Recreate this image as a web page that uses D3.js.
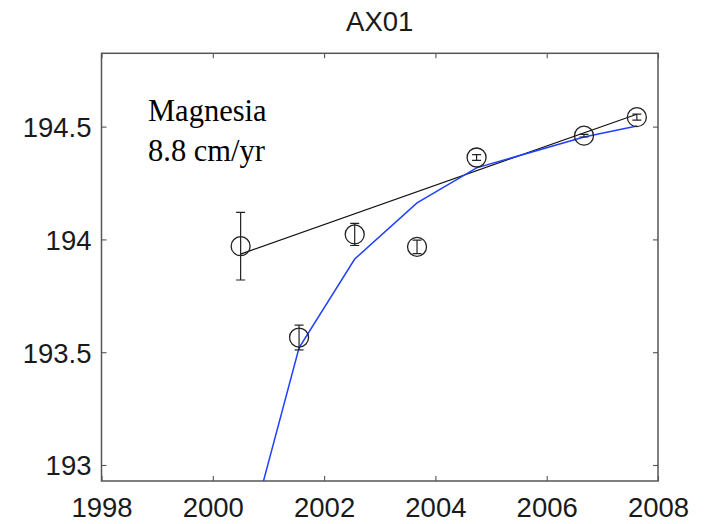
<!DOCTYPE html>
<html>
<head>
<meta charset="utf-8">
<script src="https://cdn.jsdelivr.net/npm/d3@7"></script>
<style>
  body { margin: 0; background: #fff; }
  text { font-family: "Liberation Sans", Arial, Helvetica, sans-serif; }
</style>
</head>
<body>
<svg id="chart" width="713" height="524"></svg>
<script>
// observations (year, position, half error)
var obsYears  = [2000.5, 2001.55, 2002.55, 2003.67, 2004.74, 2006.67, 2007.62];
var obsValues = [193.97, 193.565, 194.022, 193.967, 194.363, 194.46, 194.542];
var obsErrors = [0.15, 0.055, 0.049, 0.03, 0.013, 0.006, 0.013];

// model curve (blue)
var modelYears  = [2000.5, 2001.55, 2002.55, 2003.67, 2004.74, 2006.67, 2007.62];
var modelValues = [192.55, 193.519, 193.913, 194.162, 194.317, 194.454, 194.503];

// linear fit (black), 8.8 cm/yr
var fitYears  = [2000.5, 2007.62];
var fitValues = [193.935, 194.555];

var xTicks = [1998, 2000, 2002, 2004, 2006, 2008];
var yTicks = [193, 193.5, 194, 194.5];

var title = "AX01";
var noteLines = ["Magnesia", "8.8 cm/yr"];

var svg = d3.select("#chart");
var plotLeft = 101.5, plotRight = 658, plotTop = 53.3, plotBottom = 481;

var x = d3.scaleLinear().domain([1998, 2008]).range([plotLeft, plotRight]);
var y = d3.scaleLinear().domain([192.929, 194.825]).range([plotBottom, plotTop]);

var frameColor = "#555";

svg.append("defs").append("clipPath")
    .attr("id", "plotClip")
  .append("rect")
    .attr("x", plotLeft).attr("y", plotTop)
    .attr("width", plotRight - plotLeft).attr("height", plotBottom - plotTop);

// ticks, pointing inward on all four sides
function styleAxis(g) {
  g.select(".domain").remove();
  g.selectAll(".tick line").attr("stroke", frameColor).attr("stroke-width", 1.1);
}

svg.append("g")
    .attr("transform", "translate(0," + plotBottom + ")")
    .call(d3.axisBottom(x).tickValues(xTicks).tickSize(-5).tickFormat(d3.format("d")))
    .call(styleAxis)
    .call(g => g.selectAll("text")
      .attr("y", 36).attr("dy", 0)
      .attr("fill", "#1a1a1a")
      .style("font-size", "27.5px"));

svg.append("g")
    .attr("transform", "translate(0," + plotTop + ")")
    .call(d3.axisTop(x).tickValues(xTicks).tickSize(-5).tickFormat(""))
    .call(styleAxis);

svg.append("g")
    .attr("transform", "translate(" + plotLeft + ",0)")
    .call(d3.axisLeft(y).tickValues(yTicks).tickSize(-5).tickFormat(d3.format("")))
    .call(styleAxis)
    .call(g => g.selectAll("text")
      .attr("x", -10).attr("dy", "0.36em")
      .attr("fill", "#1a1a1a")
      .style("font-size", "27.5px"));

svg.append("g")
    .attr("transform", "translate(" + plotRight + ",0)")
    .call(d3.axisRight(y).tickValues(yTicks).tickSize(-5).tickFormat(""))
    .call(styleAxis);

// frame
svg.append("rect")
    .attr("x", plotLeft).attr("y", plotTop)
    .attr("width", plotRight - plotLeft).attr("height", plotBottom - plotTop)
    .attr("fill", "none")
    .attr("stroke", frameColor)
    .attr("stroke-width", 1.5);

var plot = svg.append("g").attr("clip-path", "url(#plotClip)");

var line = d3.line()
    .x(d => x(d[0]))
    .y(d => y(d[1]));

plot.append("path")
    .datum(d3.zip(fitYears, fitValues))
    .attr("d", line)
    .attr("fill", "none")
    .attr("stroke", "#111")
    .attr("stroke-width", 1.2);

plot.append("path")
    .datum(d3.zip(modelYears, modelValues))
    .attr("d", line)
    .attr("fill", "none")
    .attr("stroke", "#2040ff")
    .attr("stroke-width", 1.5);

// error bars with circles
var obs = d3.zip(obsYears, obsValues, obsErrors);
var capHalf = 4.5;

var marks = plot.selectAll(".obs")
    .data(obs)
  .enter().append("g")
    .attr("class", "obs");

marks.append("line")
    .attr("x1", d => x(d[0])).attr("x2", d => x(d[0]))
    .attr("y1", d => y(d[1] + d[2])).attr("y2", d => y(d[1] - d[2]))
    .attr("stroke", "#222").attr("stroke-width", 1.2);

marks.append("line")
    .attr("x1", d => x(d[0]) - capHalf).attr("x2", d => x(d[0]) + capHalf)
    .attr("y1", d => y(d[1] + d[2])).attr("y2", d => y(d[1] + d[2]))
    .attr("stroke", "#222").attr("stroke-width", 1.2);

marks.append("line")
    .attr("x1", d => x(d[0]) - capHalf).attr("x2", d => x(d[0]) + capHalf)
    .attr("y1", d => y(d[1] - d[2])).attr("y2", d => y(d[1] - d[2]))
    .attr("stroke", "#222").attr("stroke-width", 1.2);

marks.append("circle")
    .attr("cx", d => x(d[0]))
    .attr("cy", d => y(d[1]))
    .attr("r", 9.5)
    .attr("fill", "none")
    .attr("stroke", "#222")
    .attr("stroke-width", 1.3);

// title
svg.append("text")
    .attr("x", (plotLeft + plotRight) / 2)
    .attr("y", 31)
    .attr("text-anchor", "middle")
    .attr("fill", "#1a1a1a")
    .style("font-size", "27.5px")
    .text(title);

// annotation
svg.append("g").selectAll("text")
    .data(noteLines)
  .enter().append("text")
    .attr("x", 148)
    .attr("y", (d, i) => 121 + i * 40)
    .attr("fill", "#000")
    .style("font-family", "'Liberation Serif', 'Times New Roman', serif")
    .style("font-size", "30.5px")
    .text(d => d);
</script>
</body>
</html>
